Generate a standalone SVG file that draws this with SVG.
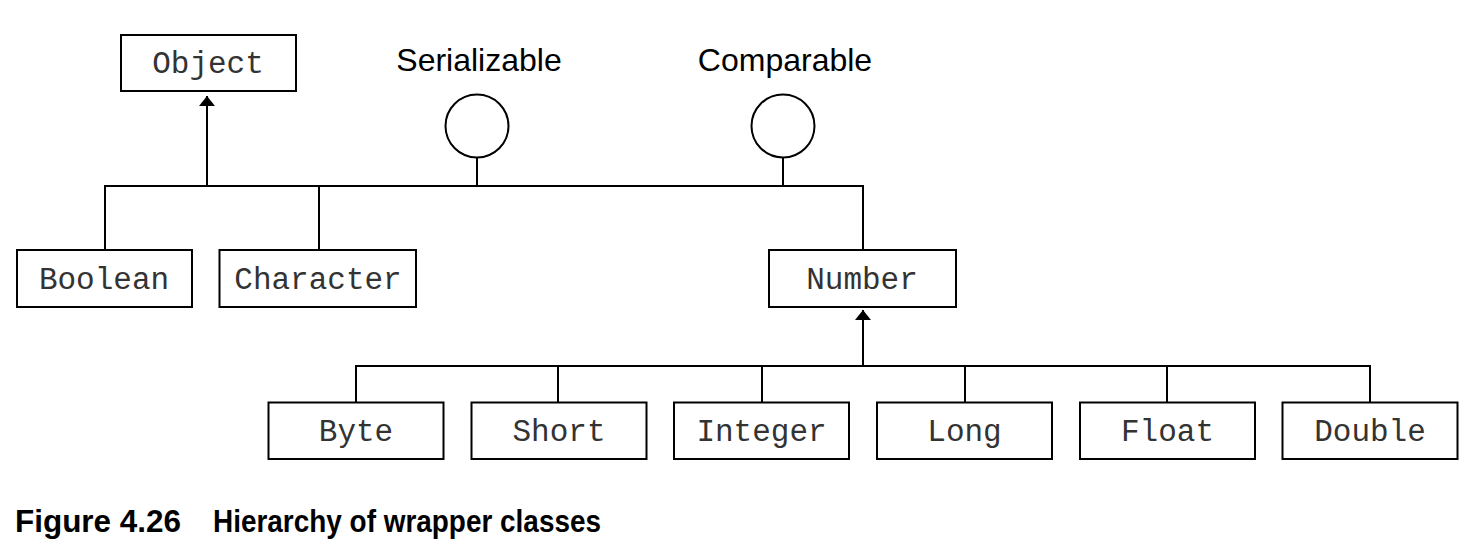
<svg xmlns="http://www.w3.org/2000/svg" width="1472" height="546" viewBox="0 0 1472 546">
<style>
.box{fill:#fff;stroke:#000;stroke-width:2}
.lbl{font-family:"Liberation Mono","Courier New",monospace;font-size:31px;fill:#333;text-anchor:middle}
.iface{font-family:"Liberation Sans",Arial,sans-serif;font-size:32px;fill:#000;text-anchor:middle}
.ln{fill:none;stroke:#000;stroke-width:2}
.cap{font-family:"Liberation Sans",Arial,sans-serif;font-size:32px;font-weight:bold;fill:#000}
</style>
<defs>
<marker id="arr" viewBox="0 0 10 16" refX="10" refY="8" markerWidth="10" markerHeight="16" markerUnits="userSpaceOnUse" orient="auto">
<path d="M0,0 L10,8 L0,16 Z" fill="#000"/>
</marker>
</defs>
<g id="connectors">
<path class="ln" d="M105,250 V186 H863 V250"/>
<path class="ln" d="M319,186 V250"/>
<path class="ln" d="M207,186 V96" marker-end="url(#arr)"/>
<path class="ln" d="M477,157 V186"/>
<path class="ln" d="M783,157 V186"/>
<path class="ln" d="M356,402 V366 H1370 V402"/>
<path class="ln" d="M558,366 V402"/>
<path class="ln" d="M762,366 V402"/>
<path class="ln" d="M965,366 V402"/>
<path class="ln" d="M1167,366 V402"/>
<path class="ln" d="M863,366 V310" marker-end="url(#arr)"/>
</g>
<g id="Object"><rect class="box" x="121" y="35" width="175" height="56"/><text class="lbl" x="208" y="73">Object</text></g>
<g id="Serializable"><circle class="box" cx="477" cy="126" r="31.5"/><text class="iface" x="479" y="71">Serializable</text></g>
<g id="Comparable"><circle class="box" cx="783" cy="126" r="31.5"/><text class="iface" x="785" y="71">Comparable</text></g>
<g id="Boolean"><rect class="box" x="17" y="250" width="175" height="57"/><text class="lbl" x="104" y="289">Boolean</text></g>
<g id="Character"><rect class="box" x="219.5" y="250" width="196.5" height="57"/><text class="lbl" x="318" y="289">Character</text></g>
<g id="Number"><rect class="box" x="769" y="250" width="187" height="57"/><text class="lbl" x="862" y="289">Number</text></g>
<g id="Byte"><rect class="box" x="268.5" y="402.5" width="175" height="56.5"/><text class="lbl" x="356" y="441">Byte</text></g>
<g id="Short"><rect class="box" x="471.5" y="402.5" width="175" height="56.5"/><text class="lbl" x="559" y="441">Short</text></g>
<g id="Integer"><rect class="box" x="674" y="402.5" width="175" height="56.5"/><text class="lbl" x="761.5" y="441">Integer</text></g>
<g id="Long"><rect class="box" x="877" y="402.5" width="175" height="56.5"/><text class="lbl" x="964.5" y="441">Long</text></g>
<g id="Float"><rect class="box" x="1080" y="402.5" width="175" height="56.5"/><text class="lbl" x="1167.5" y="441">Float</text></g>
<g id="Double"><rect class="box" x="1282.5" y="402.5" width="175" height="56.5"/><text class="lbl" x="1370" y="441">Double</text></g>
<g id="caption">
<text class="cap" x="15" y="532" textLength="166" lengthAdjust="spacingAndGlyphs">Figure 4.26</text>
<text class="cap" x="213" y="532" textLength="388" lengthAdjust="spacingAndGlyphs">Hierarchy of wrapper classes</text>
</g>
</svg>
